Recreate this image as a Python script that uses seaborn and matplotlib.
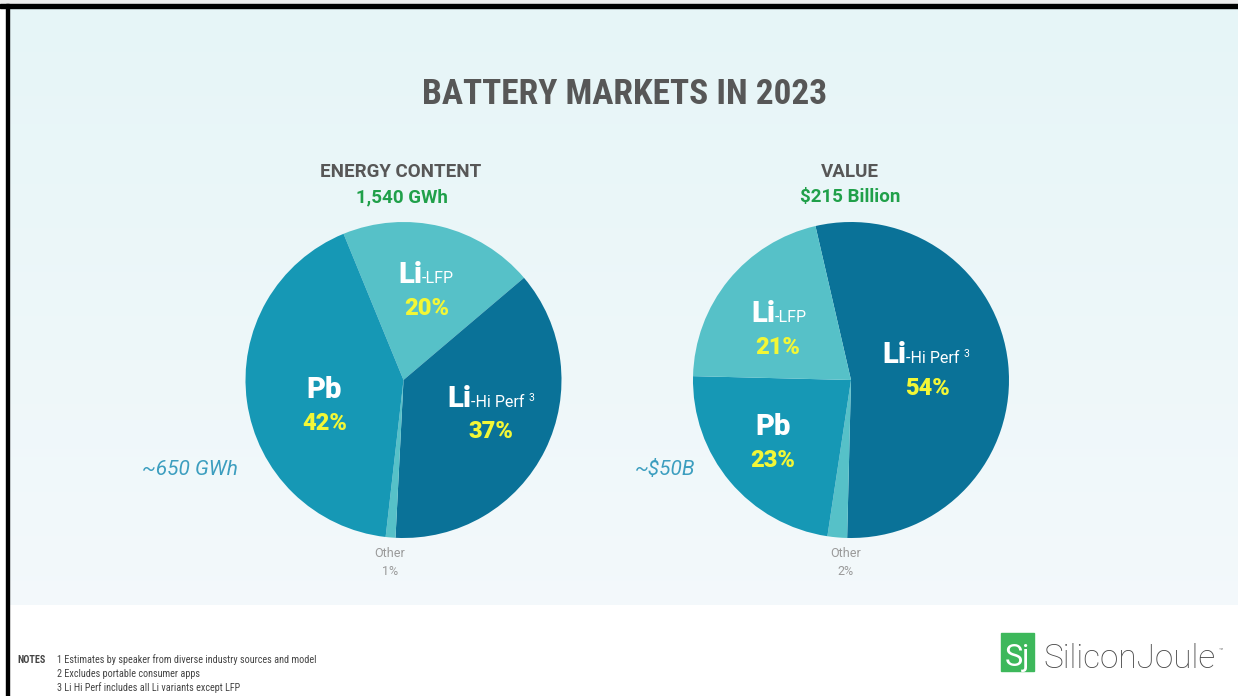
import numpy as np
import matplotlib
matplotlib.use("Agg")
import matplotlib.pyplot as plt
import seaborn as sns
from matplotlib import font_manager as fm
from matplotlib.patches import Rectangle

# ---------------- data ----------------
energy_labels = ["Li-LFP", "Li-Hi Perf", "Other", "Pb"]
energy_share = [20, 37, 1, 42]
value_labels = ["Li-Hi Perf", "Other", "Pb", "Li-LFP"]
value_share = [54, 2, 23, 21]

title = "BATTERY MARKETS IN 2023"
energy_header = "ENERGY CONTENT"
energy_total = "1,540 GWh"
value_header = "VALUE"
value_total = "$215 Billion"
energy_pb_note = "~650 GWh"
value_pb_note = "~$50B"
notes = ["1 Estimates by speaker from diverse industry sources and model",
         "2 Excludes portable consumer apps",
         "3 Li Hi Perf includes all Li variants except LFP"]

# ---------------- style ----------------
sns.set_theme(style="white")
plt.rcParams['font.family'] = ['Roboto', 'DejaVu Sans']

names = sorted({f.name for f in fm.fontManager.ttflist})
cond = None
for cand in ["Roboto Condensed", "Liberation Sans Narrow", "Open Sans Condensed", "Noto Sans Condensed"]:
    if cand in names:
        cond = cand
        break
if cond is None:
    for n in names:
        if "Condensed" in n or "Narrow" in n:
            cond = n
            break

C_LFP = "#56C1C8"
C_PB = "#1698B5"
C_HI = "#0A7298"
C_OTHER = "#56C1C8"
YELLOW = "#F2F736"
GREEN = "#20A04A"
GRAY = "#575757"
TEAL_TXT = "#3C9EBF"

color_map = {"Li-LFP": C_LFP, "Li-Hi Perf": C_HI, "Other": C_OTHER, "Pb": C_PB}

W, H = 1238, 696
fig = plt.figure(figsize=(W / 100, H / 100), dpi=100)
fig.patch.set_facecolor("white")

# background axes (pixel coordinates)
bg = fig.add_axes([0, 0, 1, 1], zorder=0)
bg.set_xlim(0, W)
bg.set_ylim(H, 0)
bg.axis("off")
grad = np.linspace(0, 1, 200)[:, None]
top = np.array([0.902, 0.962, 0.970])
bot = np.array([0.955, 0.976, 0.985])
img = top[None, None, :] * (1 - grad[:, :, None]) + bot[None, None, :] * grad[:, :, None]
bg.imshow(img, extent=[9, W, 605, 7], aspect="auto", zorder=0)
bg.add_patch(Rectangle((0, 0), W, 4, color="#EDEDED", zorder=1))
bg.add_patch(Rectangle((0, 4), W, 3.5, color="black", zorder=2))
bg.add_patch(Rectangle((6, 4), 3, H - 4, color="black", zorder=2))
bg.set_xlim(0, W)
bg.set_ylim(H, 0)


def pie_axes(cx, cy, r):
    return fig.add_axes([(cx - r) / W, (H - cy - r) / H, 2 * r / W, 2 * r / H], zorder=1)


# ---------------- pies ----------------
axL = pie_axes(403.5, 380, 158)
axL.pie(energy_share, colors=[color_map[c] for c in energy_labels], startangle=112.3,
        counterclock=False, radius=1, wedgeprops=dict(linewidth=0))
axL.set_xlim(-1, 1); axL.set_ylim(-1, 1); axL.axis("off")

axR = pie_axes(851, 380, 158)
axR.pie(value_share, colors=[color_map[c] for c in value_labels], startangle=103,
        counterclock=False, radius=1, wedgeprops=dict(linewidth=0))
axR.set_xlim(-1, 1); axR.set_ylim(-1, 1); axR.axis("off")

# ---------------- text overlay ----------------
tx = fig.add_axes([0, 0, 1, 1], zorder=3)
tx.set_xlim(0, W)
tx.set_ylim(H, 0)
tx.axis("off")
tx.patch.set_alpha(0)

renderer = fig.canvas.get_renderer()


def width_of(t):
    bb = t.get_window_extent(renderer=renderer)
    return bb.width


def compound(cx, y, parts):
    """parts: list of (text, kwargs, dy)"""
    objs = []
    for s, kw, dy in parts:
        t = tx.text(0, y + dy, s, ha="left", va="baseline", **kw)
        objs.append(t)
    widths = [width_of(t) for t in objs]
    x = cx - sum(widths) / 2
    for t, w in zip(objs, widths):
        t.set_x(x)
        x += w


big = dict(fontsize=21, fontweight="heavy", color="white")
small = dict(fontsize=11.5, color="white")
sup = dict(fontsize=7.5, color="white")
pct = dict(fontsize=17, fontweight="heavy", color=YELLOW, ha="center", va="baseline")
oth = dict(fontsize=9, color="#9A9A9A", ha="center", va="baseline")

# Left pie labels
compound(426, 283, [("Li", big, 0), ("-LFP", small, 0)])
tx.text(427, 315, f"{energy_share[0]}%", **pct)
tx.text(324.5, 398, "Pb", ha="center", va="baseline", **big)
tx.text(325, 430, f"{energy_share[3]}%", **pct)
compound(491, 407, [("Li", big, 0), ("-Hi Perf ", small, 0), ("3", sup, -6)])
tx.text(491, 438, f"{energy_share[1]}%", **pct)
tx.text(390, 557, "Other", **oth)
tx.text(390, 575, f"{energy_share[2]}%", **oth)

# Right pie labels
compound(779, 322, [("Li", big, 0), ("-LFP", small, 0)])
tx.text(778, 354, f"{value_share[3]}%", **pct)
tx.text(773, 435, "Pb", ha="center", va="baseline", **big)
tx.text(773, 467, f"{value_share[2]}%", **pct)
compound(926, 363, [("Li", big, 0), ("-Hi Perf ", small, 0), ("3", sup, -6)])
tx.text(927, 395, f"{value_share[0]}%", **pct)
tx.text(846, 557, "Other", **oth)
tx.text(846, 575, f"{value_share[1]}%", **oth)

# side notes
tx.text(190, 475, energy_pb_note, ha="center", va="baseline", fontsize=15,
        fontstyle="italic", color=TEAL_TXT)
tx.text(665, 475, value_pb_note, ha="center", va="baseline", fontsize=15,
        fontstyle="italic", color=TEAL_TXT)

# headers
hdr = dict(fontsize=13.5, fontweight="bold", color=GRAY, ha="center", va="baseline")
tot = dict(fontsize=13.5, fontweight="bold", color=GREEN, ha="center", va="baseline")
tx.text(401, 177, energy_header, **hdr)
tx.text(402, 202, energy_total, **tot)
tx.text(850, 177, value_header, **hdr)
tx.text(850, 202, value_total, **tot)

# title
if cond:
    tx.text(625, 104, title, ha="center", va="baseline", fontsize=25.5, fontweight="bold",
            color=GRAY, family=[cond, "DejaVu Sans"])
else:
    tx.text(625, 104, title, ha="center", va="baseline", fontsize=21, fontweight="bold",
            color=GRAY)

# notes
nfam = [cond, "DejaVu Sans"] if cond else ["Roboto", "DejaVu Sans"]
nsize = 7.3 if cond else 6.5
tx.text(17, 663, "NOTES", ha="left", va="baseline", fontsize=nsize, fontweight="bold",
        color="#444444", family=nfam)
for i, line in enumerate(notes):
    tx.text(57, 663 + 14 * i, line, ha="left", va="baseline", fontsize=nsize,
            color="#444444", family=nfam)

# logo
tx.add_patch(Rectangle((1001, 633), 33, 38, color="#3DB85B", zorder=3))
tx.text(1017.5, 666, "Sj", ha="center", va="baseline", fontsize=22, color="white", zorder=4)
tx.text(1043, 668, "SiliconJoule", ha="left", va="baseline", fontsize=24,
        fontweight="light", color="#4A4A4A")
tx.text(1219, 652, "™", ha="left", va="baseline", fontsize=5, color="#777777")

fig.savefig("out.png", dpi=100, facecolor="white")
